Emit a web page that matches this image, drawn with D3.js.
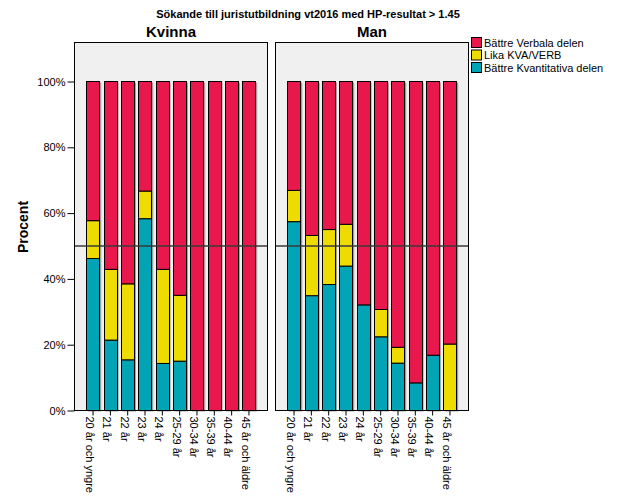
<!DOCTYPE html>
<html>
<head>
<meta charset="utf-8">
<script src="https://cdn.jsdelivr.net/npm/d3@7"></script>
<style>
  html, body { margin: 0; padding: 0; background: #fff; }
  text { font-family: Arial, "Liberation Sans", sans-serif; }
</style>
</head>
<body>
<svg id="chart" width="626" height="501"></svg>
<script>
// ---- data ----
const categories = ["20 år och yngre", "21 år", "22 år", "23 år", "24 år", "25-29 år", "30-34 år", "35-39 år", "40-44 år", "45 år och äldre"];
const panels = ["Kvinna", "Man"];
const seriesNames = ["Bättre Kvantitativa delen", "Lika KVA/VERB", "Bättre Verbala delen"];
const legendOrder = ["Bättre Verbala delen", "Lika KVA/VERB", "Bättre Kvantitativa delen"];
const yTickValues = [0, 20, 40, 60, 80, 100];

const kvinnaKvant  = [46.2, 21.4, 15.4, 58.3, 14.3, 15.0, 0, 0, 0, 0];
const kvinnaLika   = [11.5, 21.5, 23.1, 8.4, 28.6, 20.0, 0, 0, 0, 0];
const kvinnaVerbal = [42.3, 57.1, 61.5, 33.3, 57.1, 65.0, 100, 100, 100, 100];

const manKvant  = [57.4, 34.9, 38.3, 43.9, 32.1, 22.4, 14.4, 8.4, 16.8, 0];
const manLika   = [9.5, 18.3, 16.7, 12.7, 0, 8.3, 4.8, 0, 0, 20.2];
const manVerbal = [33.1, 46.8, 45.0, 43.4, 67.9, 69.3, 80.8, 91.6, 83.2, 79.8];

const referenceLine = 50;

// ---- setup ----
const colors = {
  "Bättre Verbala delen": "#E8184D",
  "Lika KVA/VERB": "#EEDC00",
  "Bättre Kvantitativa delen": "#00A4B5"
};

const panelData = {
  "Kvinna": [kvinnaKvant, kvinnaLika, kvinnaVerbal],
  "Man": [manKvant, manLika, manVerbal]
};

const svg = d3.select("#chart");

const panelX = { "Kvinna": [74.5, 267.5], "Man": [275.5, 468.5] };
const panelTop = 42.5;
const y = d3.scaleLinear().domain([0, 100]).range([410.5, 81.5]);

// title
svg.append("text")
  .attr("x", 308).attr("y", 18)
  .attr("text-anchor", "middle")
  .attr("font-size", 11).attr("font-weight", "bold")
  .text("Sökande till juristutbildning vt2016 med HP-resultat > 1.45");

// y label
svg.append("text")
  .attr("transform", "translate(28,227) rotate(-90)")
  .attr("text-anchor", "middle")
  .attr("font-size", 14).attr("font-weight", "bold")
  .text("Procent");

panels.forEach(p => {
  const [x0, x1] = panelX[p];
  const x = d3.scaleBand().domain(categories).range([x0, x1]).paddingInner(0.22).paddingOuter(0.68);
  const g = svg.append("g");

  // panel background
  g.append("rect")
    .attr("x", x0).attr("y", panelTop)
    .attr("width", x1 - x0).attr("height", y(0) - panelTop)
    .attr("fill", "#F0F0F0");

  // facet title
  g.append("text")
    .attr("x", (x0 + x1) / 2).attr("y", 37)
    .attr("text-anchor", "middle")
    .attr("font-size", 15).attr("font-weight", "bold")
    .text(p);

  // stacked data
  const rows = categories.map((c, i) => {
    const r = { cat: c };
    seriesNames.forEach((s, j) => r[s] = panelData[p][j][i]);
    return r;
  });
  const stacked = d3.stack().keys(seriesNames)(rows);

  // shadows
  g.selectAll("rect.shadow")
    .data(rows)
    .join("rect")
    .attr("class", "shadow")
    .attr("x", d => x(d.cat) + 1.5)
    .attr("y", y(100) + 1)
    .attr("width", x.bandwidth())
    .attr("height", y(0) - y(100))
    .attr("fill", "#7a7a7a")
    .attr("opacity", 0.7);

  stacked.forEach(layer => {
    g.selectAll(null)
      .data(layer)
      .join("rect")
      .attr("x", d => Math.round(x(d.data.cat)) + 0.5)
      .attr("y", d => y(d[1]))
      .attr("width", Math.round(x.bandwidth()) - 1)
      .attr("height", d => y(d[0]) - y(d[1]))
      .attr("fill", colors[layer.key])
      .attr("stroke", "#000")
      .attr("stroke-width", 1);
  });

  // reference line
  g.append("line")
    .attr("x1", x0).attr("x2", x1)
    .attr("y1", y(referenceLine)).attr("y2", y(referenceLine))
    .attr("stroke", "#3a3a3a").attr("stroke-width", 1.6);

  // panel border
  g.append("rect")
    .attr("x", x0).attr("y", panelTop)
    .attr("width", x1 - x0).attr("height", y(0) - panelTop)
    .attr("fill", "none").attr("stroke", "#000").attr("stroke-width", 1);

  // x axis
  const xAxis = d3.axisBottom(x).tickSize(5).tickPadding(2).tickSizeOuter(0);
  const xg = g.append("g").attr("transform", `translate(0,${y(0)})`).call(xAxis);
  xg.select(".domain").remove();
  xg.selectAll("line").attr("stroke", "#000");
  xg.selectAll("text")
    .attr("font-size", 11)
    .attr("font-family", "Arial, 'Liberation Sans', sans-serif")
    .attr("fill", "#000")
    .attr("text-anchor", "start")
    .attr("transform", "rotate(90)")
    .attr("x", 6)
    .attr("y", 0)
    .attr("dy", "0.65em");

  if (p === "Kvinna") {
    const yAxis = d3.axisLeft(y).tickValues(yTickValues).tickFormat(d => d + "%").tickSize(7).tickPadding(2).tickSizeOuter(0);
    const yg = g.append("g").attr("transform", `translate(${x0},0)`).call(yAxis);
    yg.select(".domain").remove();
    yg.selectAll("line").attr("stroke", "#000");
    yg.selectAll("text")
      .attr("font-size", 11)
      .attr("font-family", "Arial, 'Liberation Sans', sans-serif")
      .attr("fill", "#000");
  }
});

// legend
const lg = svg.append("g");
legendOrder.forEach((s, i) => {
  lg.append("rect")
    .attr("x", 471.5).attr("y", 37.5 + i * 12.5)
    .attr("width", 10).attr("height", 10)
    .attr("fill", colors[s]).attr("stroke", "#000").attr("stroke-width", 1);
  lg.append("text")
    .attr("x", 484).attr("y", 46.5 + i * 12.5)
    .attr("font-size", 11)
    .text(s);
});
</script>
</body>
</html>
